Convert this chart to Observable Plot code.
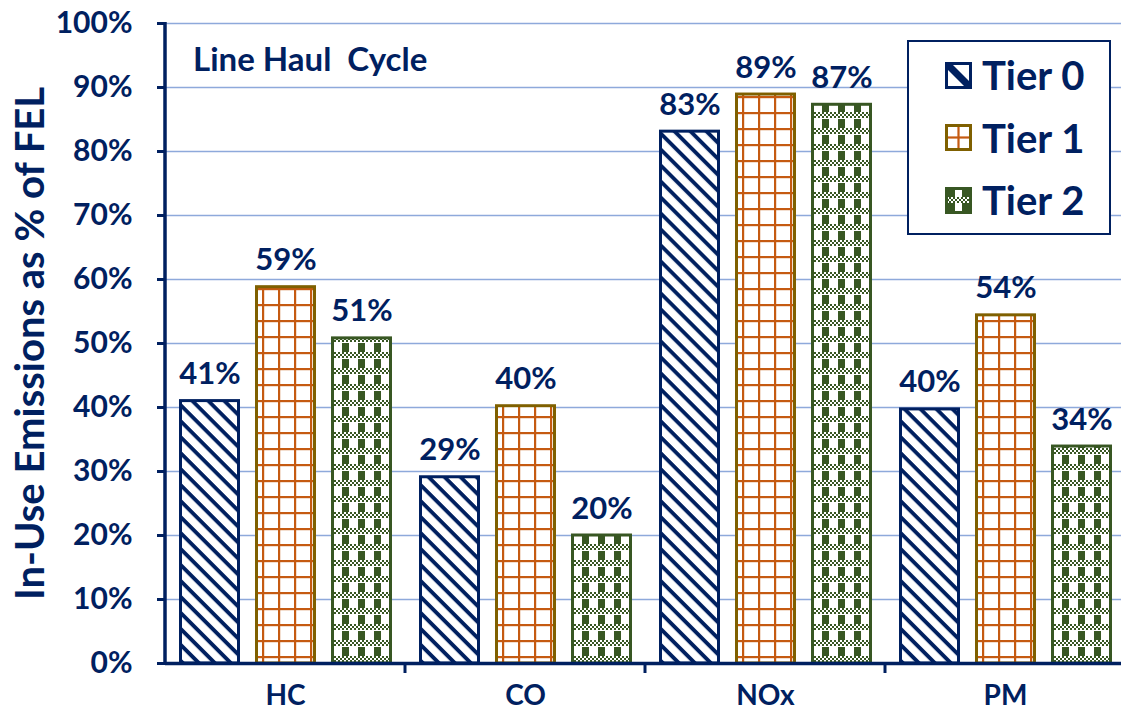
<!DOCTYPE html>
<html>
<head>
<meta charset="utf-8">
<script src="https://cdn.jsdelivr.net/npm/d3@7"></script>
<script src="https://cdn.jsdelivr.net/npm/@observablehq/plot@0.6"></script>
<style>
  html, body { margin: 0; padding: 0; background: #fff; }
  #wrap { position: relative; width: 1121px; height: 711px; font-family: Lato, "Open Sans", sans-serif; color: #002060; }
  #title { position: absolute; left: 193px; top: 38px; font-size: 33px; font-weight: 700; white-space: pre; line-height: 40px; }
  #legend { position: absolute; left: 907px; top: 40px; width: 200px; height: 191px; border: 2px solid #002060; background: #fff; }
  .li { position: absolute; left: 36px; display: flex; align-items: center; font-size: 40px; font-weight: 700; line-height: 44px; }
  .li svg { margin-right: 10px; }
</style>
</head>
<body>
<div id="wrap">
  <div id="chart"></div>
  <div id="title">Line Haul  Cycle</div>
  <div id="legend"></div>
</div>
<script>
const categories = ["HC", "CO", "NOx", "PM"];
const tiers = ["Tier 0", "Tier 1", "Tier 2"];
const tier0 = [41.0, 29.1, 83.1, 39.7];
const tier1 = [58.8, 40.2, 88.9, 54.4];
const tier2 = [50.8, 20.0, 87.3, 33.9];
const labels0 = ["41%", "29%", "83%", "40%"];
const labels1 = ["59%", "40%", "89%", "54%"];
const labels2 = ["51%", "20%", "87%", "34%"];
const yTicks = [0, 10, 20, 30, 40, 50, 60, 70, 80, 90, 100];

const strokes = {"Tier 0": "#002060", "Tier 1": "#7F6000", "Tier 2": "#385723"};
const fills = {"Tier 0": "url(#pat0)", "Tier 1": "url(#pat1)", "Tier 2": "url(#pat2)"};
const legendFills = {"Tier 0": "url(#lpat0)", "Tier 1": "url(#lpat1)", "Tier 2": "url(#lpat2)"};

const data = [];
categories.forEach((c, i) => {
  data.push({cat: c, tier: "Tier 0", value: tier0[i], label: labels0[i]});
  data.push({cat: c, tier: "Tier 1", value: tier1[i], label: labels1[i]});
  data.push({cat: c, tier: "Tier 2", value: tier2[i], label: labels2[i]});
});

const navy = "#002060";
const grid = "#8EA9DB";
const font = "Lato, 'Open Sans', sans-serif";

function checker(y0, rows) {
  let s = "";
  for (let r = 0; r < rows; r++) {
    for (let c = 0; c < 8; c++) {
      if ((r + c) % 2 === 0) s += `<rect x="${c * 2}" y="${y0 + r * 2}" width="2" height="2" fill="#385723"/>`;
    }
  }
  return s;
}

const defs = `
<defs>
  <pattern id="pat0" patternUnits="userSpaceOnUse" width="11.3" height="11.3" patternTransform="rotate(45)">
    <rect width="11.3" height="11.3" fill="#fff"/>
    <rect y="0" width="11.3" height="3.9" fill="#002060"/>
  </pattern>
  <pattern id="pat1" patternUnits="userSpaceOnUse" width="16" height="16" x="4" y="0">
    <rect width="16" height="16" fill="#fff"/>
    <rect x="0" y="0" width="2.2" height="16" fill="#C55A11"/>
    <rect x="0" y="0" width="16" height="2.2" fill="#C55A11"/>
  </pattern>
  <pattern id="pat2" patternUnits="userSpaceOnUse" width="16" height="16">
    <rect width="16" height="16" fill="#fff"/>
    ${checker(0, 3)}
    <rect x="4" y="7" width="7" height="9" fill="#385723"/>
  </pattern>
  <pattern id="lpat0" patternUnits="userSpaceOnUse" width="27" height="27">
    <rect width="27" height="27" fill="#002060"/>
    <polygon points="3,8 3,24 19,24" fill="#fff"/>
    <polygon points="8,3 24,3 24,19" fill="#fff"/>
  </pattern>
  <pattern id="lpat1" patternUnits="userSpaceOnUse" width="27" height="27">
    <rect width="27" height="27" fill="#fff"/>
    <rect x="12.4" y="0" width="2.2" height="27" fill="#C55A11"/>
    <rect x="0" y="12.4" width="27" height="2.2" fill="#C55A11"/>
  </pattern>
  <pattern id="lpat2" patternUnits="userSpaceOnUse" width="27" height="27">
    <rect width="27" height="27" fill="#385723"/>
    <rect x="10" y="0" width="7" height="27" fill="#fff"/>
    <rect x="0" y="10" width="27" height="6" fill="#fff"/>
    <g transform="translate(0,10)">${checker(0, 3)}</g>
    <g transform="translate(16,10)">${checker(0, 3)}</g>
  </pattern>
</defs>`;

const chart = Plot.plot({
  width: 1121,
  height: 711,
  marginLeft: 163,
  marginRight: 0,
  marginTop: 23,
  marginBottom: 48,
  style: {fontFamily: font, color: navy, background: "#fff", overflow: "visible"},
  fx: {domain: categories, range: [163, 1126], padding: 0, label: null},
  x: {domain: tiers, paddingInner: 0.2, paddingOuter: 0.17, axis: null},
  y: {domain: [0, 100], range: [663, 23], label: null},
  marks: [
    Plot.ruleY(yTicks.filter(d => d > 0), {y: d => d, stroke: grid, strokeWidth: 1.6}),
    Plot.barY(data, {fx: "cat", x: "tier", y: "value", fill: d => fills[d.tier], stroke: d => strokes[d.tier], strokeWidth: 3, insetLeft: 1.5, insetRight: 1.5}),
    Plot.text(data, {fx: "cat", x: "tier", y: "value", text: "label", lineAnchor: "bottom", dy: -17, fontSize: 31, fontWeight: 700, fill: navy}),
    Plot.axisY({ticks: yTicks, tickFormat: d => d + "%", tickSize: 8, tickPadding: 25, stroke: navy, strokeWidth: 3, fontSize: 30, fontWeight: 700, fill: navy,
      label: "In-Use Emissions as % of FEL", labelAnchor: "center", labelOffset: 150, labelArrow: "none"}),
    Plot.axisFx({anchor: "bottom", tickSize: 0, tickPadding: 22, fontSize: 28, fontWeight: 700, fill: navy, label: null}),
    Plot.ruleY([0], {stroke: navy, strokeWidth: 3.5})
  ]
});

chart.insertAdjacentHTML("afterbegin", defs);

// axis line on the left and category boundary ticks, placed via the chart's scales
const fxs = chart.scale("fx");
const ys = chart.scale("y");
const ns = "http://www.w3.org/2000/svg";
const y0 = ys.apply(0), y100 = ys.apply(100);
const left = fxs.apply(categories[0]);
function addLine(x1, y1, x2, y2, w) {
  const l = document.createElementNS(ns, "line");
  l.setAttribute("x1", x1); l.setAttribute("y1", y1);
  l.setAttribute("x2", x2); l.setAttribute("y2", y2);
  l.setAttribute("stroke", navy); l.setAttribute("stroke-width", w);
  chart.appendChild(l);
}
addLine(left, y100 - 1, left, y0 + 1.5, 3.5);
categories.slice(1).forEach(c => {
  const x = fxs.apply(c);
  addLine(x, y0, x, y0 + 10, 3);
});

document.getElementById("chart").appendChild(chart);

// style y-axis label
chart.querySelectorAll("text").forEach(t => {
  if (t.textContent === "In-Use Emissions as % of FEL") {
    t.setAttribute("font-size", 40);
    t.setAttribute("font-weight", 700);
  }
});

// legend
const legend = document.getElementById("legend");
tiers.forEach((t, i) => {
  const row = document.createElement("div");
  row.className = "li";
  row.style.top = (11 + i * 62.5) + "px";
  row.innerHTML = `<svg width="27" height="27"><rect x="1.5" y="1.5" width="24" height="24" fill="${legendFills[t]}" stroke="${strokes[t]}" stroke-width="3"/></svg><span>${t}</span>`;
  legend.appendChild(row);
});
</script>
</body>
</html>
